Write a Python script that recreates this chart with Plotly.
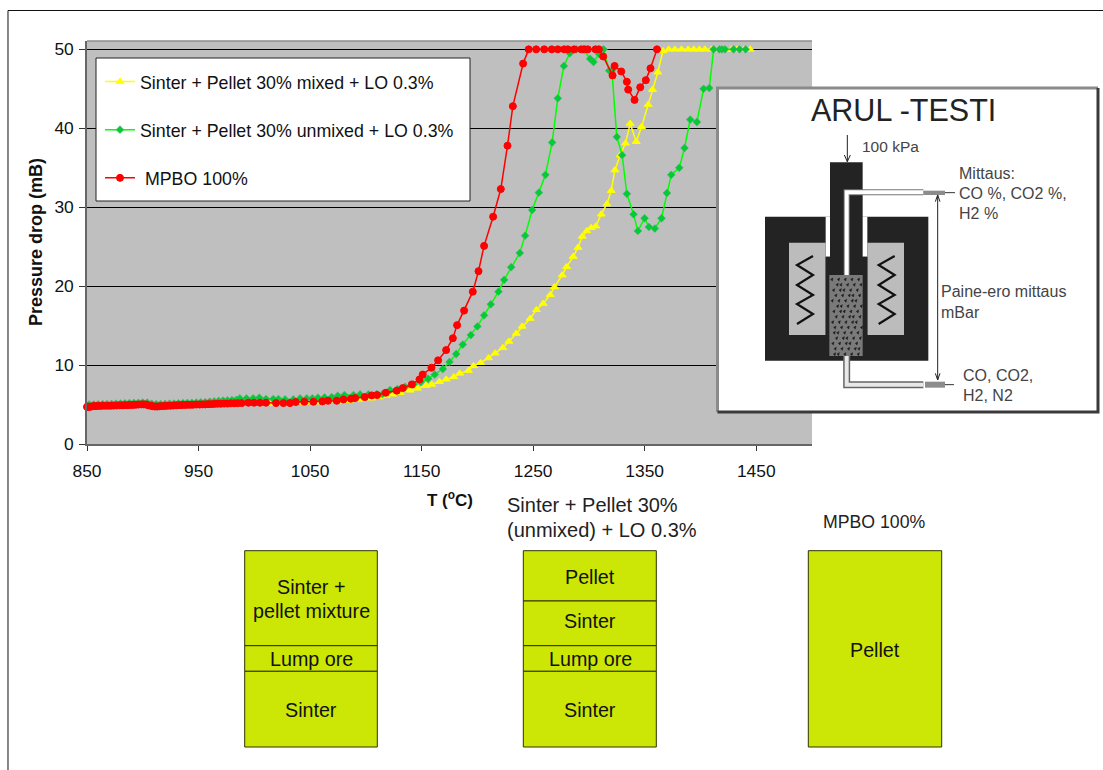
import plotly.graph_objects as go

# ---------- data ----------
mixed_t = [855,865,875,885,895,905,915,925,935,945,955,965,975,985,995,1005,1015,1025,1035,1045,1055,1065,1075,1085,1095,1105,1112,1118,1124,
           1130.7,1139.7,1146.2,1154,1159.1,1166,1172,1178.8,1184.2,1192,1196.5,1202.8,1210,1215.9,1222.8,1228.2,1234.8,1240.1,1247.3,1253,1259,1265.3,1269.1,1276,1280,1285.9,1290.2,1294,1298.1,
           1302,1306.2,1311,1316.1,1320,1323.3,1328,1332.8,1337,1342.4,1347.2,1353.1,1357,1361.8,1366.4,
           1371.5,1377,1383,1389,1394,1399,1404,1410,1416,1422,1428,1433,1439,1444.5]
mixed_p = [4.7,4.75,4.8,4.85,4.9,4.85,4.72,4.78,4.85,4.9,4.95,5.0,5.05,5.1,5.13,5.15,5.1,5.1,5.15,5.22,5.3,5.35,5.4,5.5,5.65,5.8,5.95,6.1,6.3,
           6.5,6.8,7.05,7.4,7.55,7.9,8.2,8.5,8.95,9.3,9.9,10.3,10.9,11.5,12.2,13,14,14.9,15.9,17,17.8,18.9,19.9,21.4,22.45,23.75,24.9,26.3,27,
           27.4,27.6,29.1,30.4,32.1,34.7,36.6,38.1,40.6,38.3,40.2,43,44.9,47.1,49.8,
           50,50,50,50,50,50,50,50,50,50,50,50,50,50]

unmixed_t = [852,856,860,864,868,872,876,880,884,888,892,896,900,904,908,912,916,920,924,928,932,936,940,944,948,952,956,960,964,968,972,976,980,984,
             987,993,999,1004.5,1010.5,1017,1021.6,1027.6,1035,1041,1047,1052,1057,1063,1069.4,1074.8,1080.8,1088.9,1094.8,1102.3,1109.8,1114.9,1121.7,1128.3,
             1135.2,1142.7,1149.2,1155.8,1161.8,1169,1175,1181,1186.9,1194.1,1200,1206,1212,1218.9,1224,1230.3,1238,1242.8,
             1249.1,1255.1,1261,1267,1272.1,1277.5,1282.9,1289,1295,1301.1,1304.1,1309.2,1313.1,1318.2,1320.6,1325,1329.8,1334,1340,1343.9,1349.9,1353.8,1359.1,1365.1,1369.9,1373.8,1381,1385.7,1390.8,1396.8,1402.8,1407.9,
             1411.8,1416.9,1419.3,1422,1429.7,1435.1,1440.5]
unmixed_p = [5.0,5.0,5.02,5.05,5.05,5.08,5.1,5.12,5.15,5.18,5.2,5.22,5.25,5.25,5.1,5.05,5.05,5.08,5.1,5.12,5.15,5.18,5.2,5.22,5.25,5.28,5.3,5.35,5.4,5.45,5.5,5.52,5.55,5.6,
             5.78,5.78,5.78,5.86,5.69,5.69,5.69,5.65,5.65,5.78,5.78,5.78,5.86,5.9,5.94,6.11,6.2,6.2,6.28,6.28,6.32,6.32,6.83,6.96,
             7.25,7.55,7.85,8.27,8.8,9.5,10.4,11.4,12.6,13.8,14.9,16.3,17.7,19.3,20.8,22.4,24.2,26.4,
             29.65,31.85,34.1,38.2,43.8,47.9,49.5,50,50,48.8,48.4,49.4,50,47.3,47.3,38.9,36.6,31.7,29.1,27,28.6,27.5,27.3,28.6,31.8,34.1,35,37.5,41.1,40.8,45,45.1,
             50,50,50,50,50,50,50]

mpbo_t = [850,850.5,851.5,853,855,857,859,861.5,864,866.5,869,871.5,874,876.5,879,881.5,884,886.5,889,891.5,894,896.5,899,901,903,905,907,909,911,913,915,917.5,920,922.5,925,927.5,930,932.5,935,937.5,940,942.5,945,948,951,953.5,956,958.5,961,964,967,970,973,976,979,982,985,
          988.7,994.7,999.8,1005.1,1010.5,1019.5,1026.1,1032,1037.1,1044.9,1053,1061,1066.1,1073.9,1079.9,1086.5,1090.4,1099,1105.3,1110.1,1117.9,1127.7,1133.1,1141.2,1148.1,
          1151,1158.8,1164.8,1172,1178,1181.8,1188.1,1195.9,1201,1206,1214.1,1221,1227,1231.8,1241,
          1246,1252.7,1259.9,1266.7,1272.1,1277.8,1281.1,1286.8,1293.1,1296,1299,1305.9,1308.9,
          1312.8,1321.2,1323,1329,1334,1335.2,1340.9,1346,1351,1355.2,1361]
mpbo_p = [4.7,4.75,4.7,4.72,4.78,4.8,4.82,4.82,4.85,4.85,4.85,4.85,4.87,4.88,4.9,4.9,4.92,4.92,4.95,4.95,4.98,5.0,5.02,5.02,5.0,4.9,4.85,4.78,4.75,4.75,4.78,4.8,4.82,4.85,4.85,4.88,4.9,4.92,4.94,4.94,4.96,4.96,4.97,5.0,5.0,5.02,5.02,5.05,5.05,5.08,5.1,5.1,5.12,5.12,5.15,5.15,5.17,
          5.18,5.23,5.23,5.23,5.23,5.18,5.18,5.18,5.31,5.35,5.35,5.4,5.48,5.48,5.65,5.73,5.82,5.94,6.16,6.2,6.5,6.75,7.08,7.55,8.18,
          8.8,9.66,10.6,11.9,13.4,15.06,16.9,19.3,21.9,25.1,28.8,32.3,37.8,42.8,48.2,
          50,50,50,50,50,50,50,50,50,50,50,50,50,
          49.1,46.7,47.9,47.2,45.9,44.9,43.6,45.2,46.1,47.6,50]

x_ticks = [850, 950, 1050, 1150, 1250, 1350, 1450]
y_ticks = [0, 10, 20, 30, 40, 50]
series_names = ["Sinter + Pellet 30% mixed + LO 0.3%", "Sinter + Pellet 30% unmixed + LO 0.3%", " MPBO 100%"]

# ---------- page geometry ----------
L, R, T, B = 87, 812, 41, 444
W, H = 1103, 770
FONT = "Liberation Sans"
px = lambda x: (x - L) / (R - L)
py = lambda y: (B - y) / (B - T)
shapes, notes = [], []


def rect(x0, y0, x1, y1, fill="rgba(0,0,0,0)", color="rgba(0,0,0,0)", width=1, layer="above"):
    shapes.append(dict(type="rect", xref="paper", yref="paper", x0=px(x0), x1=px(x1), y0=py(y0), y1=py(y1),
                       fillcolor=fill, line=dict(color=color, width=width), layer=layer))


def poly(points, color="#111", width=1, fill=None):
    d = "M " + " L ".join(f"{px(a):.5f} {py(b):.5f}" for a, b in points)
    if fill:
        d += " Z"
    s = dict(type="path", xref="paper", yref="paper", path=d, line=dict(color=color, width=width), layer="above")
    if fill:
        s["fillcolor"] = fill
    shapes.append(s)


def text(x, y, s, size=17.5, color="#111", anchor="center", bold=False):
    notes.append(dict(xref="paper", yref="paper", x=px(x), y=py(y), text=f"<b>{s}</b>" if bold else s, showarrow=False,
                      xanchor=anchor, yanchor="middle", align=anchor if anchor != "center" else "center",
                      font=dict(family=FONT, size=size, color=color)))


# page frame
poly([(8, 770), (8, 10.5), (1103, 10.5)], color="#111", width=1)
# plot area upper edge
poly([(L, 41), (R, 41)], color="#8c8c8c", width=1.5)
# legend panel
rect(96, 58, 470, 201, fill="white", color="#222", width=1)

# ---------- ARUL-TESTI inset ----------
zx = lambda v: 710 + v / 3
zy = lambda v: 80 + v / 3
def zrect(a, b, c, d, **k):
    rect(zx(a), zy(b), zx(c), zy(d), **k)
def zpoly(points, **k):
    poly([(zx(a), zy(b)) for a, b in points], **k)

rect(717.5, 88, 1098, 412, fill="white", color="rgba(0,0,0,0)")
poly([(717.5, 412), (717.5, 88), (1098, 88)], color="#8a8a8a", width=3)
poly([(1098, 88), (1098, 412), (717.5, 412)], color="#3a3a3a", width=3)
text(903, 110, "ARUL -TESTI", size=30.5, color="#222")

DARK, LIGHT = "#232323", "#bcbcbc"
zrect(165, 410, 655, 842, fill=DARK)
zrect(347, 410, 472, 530, fill="white")
zrect(237, 488, 347, 765, fill=LIGHT)
zrect(472, 488, 582, 765, fill=LIGHT)
zrect(347, 530, 472, 765, fill=DARK)
zrect(360, 247, 458, 590, fill=DARK)
zrect(358, 585, 458, 828, fill="#7a7a7a")
# burden particles in the sample cell
speck = []
for row, b in enumerate(range(598, 825, 16)):
    for col, a in enumerate(range(366 + (row % 2) * 9, 455, 18)):
        o = (row * 7 + col * 11) % 9 - 4
        speck.append(f"M {px(zx(a+o)):.5f} {py(zy(b)):.5f} L {px(zx(a+o+7)):.5f} {py(zy(b-4)):.5f} L {px(zx(a+o+5)):.5f} {py(zy(b+5)):.5f} Z")
shapes.append(dict(type="path", xref="paper", yref="paper", path=" ".join(speck), fillcolor="#1c1c1c",
                   line=dict(color="#1c1c1c", width=0.5), layer="above"))
# gas tubes
zpoly([(410, 585), (410, 337), (640, 337)], color="#777", width=6)
zpoly([(410, 585), (410, 337), (640, 337)], color="white", width=4)
zpoly([(410, 828), (410, 914), (640, 914)], color="#666", width=7)
zpoly([(410, 828), (410, 914), (640, 914)], color="#e8e8e8", width=4)
zrect(640, 332, 705, 345, fill="#8c8c8c")
zrect(645, 905, 705, 923, fill="#8c8c8c")
zpoly([(705, 338), (735, 338)], color="#333", width=1)
zpoly([(705, 914), (732, 914)], color="#333", width=1)
# heater coils
for c in (285, 530):
    zpoly([(c + 24, 528), (c - 24, 555), (c + 24, 585), (c - 24, 615), (c + 24, 645), (c - 24, 672), (c + 24, 702), (c - 24, 732)],
          color="#111", width=2.2)
# load and pressure-difference arrows
zpoly([(412, 165), (412, 245)], color="#222", width=1)
zpoly([(403, 225), (412, 245), (421, 225)], color="#222", width=1)
zpoly([(683, 345), (683, 900)], color="#222", width=1)
zpoly([(676, 365), (683, 345), (690, 365)], color="#222", width=1)
zpoly([(676, 880), (683, 900), (690, 880)], color="#222", width=1)

for x, y, s, z in [(860, 146, "100 kPa", 15.5), (957, 173, "Mittaus:", 16), (957, 193, "CO %, CO2 %,", 16), (957, 213, "H2 %", 16),
                   (939, 291, "Paine-ero mittaus", 16), (939, 312, "mBar", 16), (961, 375, "CO, CO2,", 16), (961, 395, "H2, N2", 16)]:
    text(x, y, s, size=z, color="#444", anchor="left")

# ---------- charge columns ----------
OLIVE, EDGE = "#cce605", "#2e3300"
for x0, x1, bounds in [(244.7, 377.3, [550.7, 645.7, 671.3, 747]),
                       (523.3, 656.3, [550.7, 601, 645.7, 671.3, 747]),
                       (808.3, 941.7, [550.7, 747])]:
    for top, bottom in zip(bounds[:-1], bounds[1:]):
        rect(x0, top, x1, bottom, fill=OLIVE, color=EDGE, width=1)

for x, y, s in [(311, 587, "Sinter +"), (311, 611, "pellet mixture"), (311, 659, "Lump ore"), (311, 710, "Sinter"),
                (590, 577, "Pellet"), (590, 621, "Sinter"), (590, 659, "Lump ore"), (590, 710, "Sinter"),
                (875, 650, "Pellet")]:
    text(x, y, s, size=19.7, color="#111")
text(504.5, 505, "Sinter + Pellet 30%", size=20, color="#222", anchor="left")
text(504.5, 529.5, "(unmixed) + LO 0.3%", size=20, color="#222", anchor="left")
text(874, 522, "MPBO 100%", size=17.7, color="#222")
text(449.5, 499, "T (<sup>o</sup>C)", size=17, bold=True)
notes.append(dict(xref="paper", yref="paper", x=px(36), y=py(242), text="<b>Pressure drop (mB)</b>", textangle=-90,
                  showarrow=False, xanchor="center", yanchor="middle", font=dict(family=FONT, size=18, color="#111")))

# ---------- figure ----------
fig = go.Figure()
styles = [
    (mixed_t, mixed_p, "#ffff00", dict(symbol="triangle-up", size=7, color="#ffff00", line=dict(color="#ffff00", width=1))),
    (unmixed_t, unmixed_p, "#00ff00", dict(symbol="diamond", size=6, color="#00cc33", line=dict(color="#55aa77", width=0.6))),
    (mpbo_t, mpbo_p, "#ff0000", dict(symbol="circle", size=7, color="#ff0000", line=dict(color="#ff0000", width=1))),
]
for name, (xs, ys, col, marker) in zip(series_names, styles):
    fig.add_trace(go.Scatter(x=xs, y=ys, name=name, mode="lines+markers", legendgroup=name, cliponaxis=False,
                             line=dict(color=col, width=1.5), marker=marker))

fig.update_layout(
    width=W, height=H, autosize=False,
    margin=dict(l=L, r=W - R, t=T, b=H - B, pad=0),
    paper_bgcolor="white", plot_bgcolor="#bfbfbf",
    font=dict(family=FONT, size=17, color="#111"),
    shapes=shapes, annotations=notes,
    legend=dict(x=px(100), y=py(63.5), xanchor="left", yanchor="top", bgcolor="rgba(0,0,0,0)", borderwidth=0,
                font=dict(family=FONT, size=17.8, color="#111"), tracegroupgap=22, itemwidth=30,
                traceorder="grouped", itemsizing="trace"),
    xaxis=dict(range=[850, 1500], tickvals=x_ticks, ticks="outside", ticklen=5, tickcolor="#333", showgrid=False,
               showline=True, linecolor="#666", linewidth=1.5, zeroline=False, ticklabelstandoff=5,
               tickfont=dict(size=17.4, color="#111")),
    yaxis=dict(range=[0, 51.06], tickvals=y_ticks, ticks="outside", ticklen=6, tickcolor="#333", showgrid=True,
               gridcolor="#000000", gridwidth=1, showline=True, linecolor="#666", linewidth=1.5, zeroline=False,
               ticklabelstandoff=2, tickfont=dict(size=17.4, color="#111")),
)
assert all(len(a) == len(b) for a, b in [(mixed_t, mixed_p), (unmixed_t, unmixed_p), (mpbo_t, mpbo_p)])
fig.write_html("out.html", config=dict(displayModeBar=False),
               post_script="document.body.style.margin='0';document.body.style.overflow='hidden';")
